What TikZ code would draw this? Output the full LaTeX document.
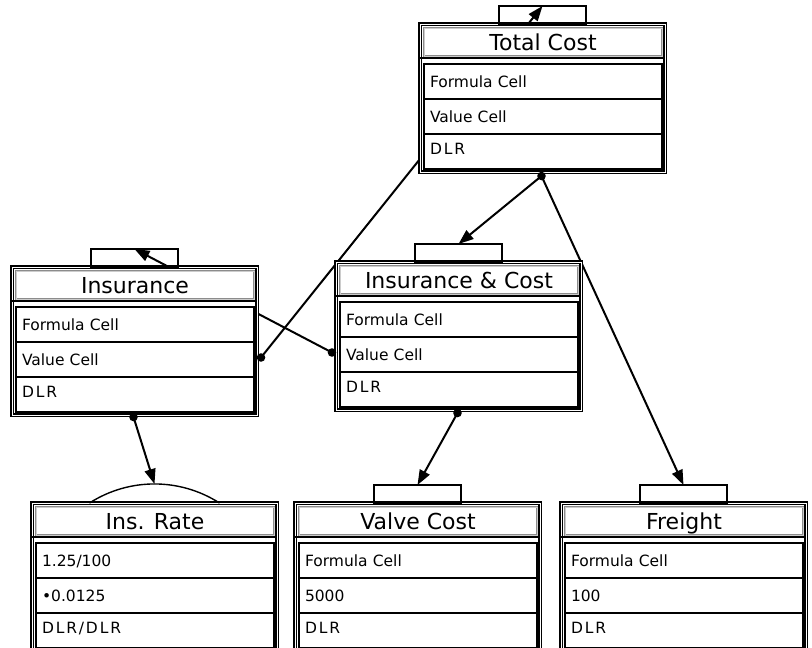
\documentclass[tikz,border=0pt]{standalone}
\usepackage{fontspec}
\setmainfont{DejaVu Sans}
\newfontfamily\dlrfont[LetterSpace=12]{DejaVu Sans}
\usetikzlibrary{arrows.meta,calc,backgrounds}

\tikzset{
  outerbox/.style={draw=black, fill=white, double=white, double distance=1pt,
    line width=1.2pt, minimum width=245pt, minimum height=148pt,
    inner sep=0pt, outer sep=0pt, anchor=north west},
  titlebox/.style={draw=black!45, double=black!20, double distance=0.8pt,
    line width=0.8pt, minimum width=238pt, minimum height=28pt,
    inner sep=0pt, outer sep=0pt, anchor=north west,
    font=\fontsize{22}{22}\selectfont, text height=16pt, text depth=0pt},
  cellbox/.style={draw=black, line width=1.8pt, minimum width=238pt,
    minimum height=35pt, inner xsep=6pt, inner ysep=0pt, outer sep=0pt,
    text width=226pt, align=left, anchor=north west,
    font=\fontsize{15.5}{15.5}\selectfont, text height=11.3pt, text depth=0pt},
  dlrcell/.style={cellbox, font=\fontsize{15.5}{15.5}\dlrfont, text depth=6pt},
  tabbox/.style={draw=black, line width=1.4pt, minimum width=87pt,
    minimum height=18pt, inner sep=0pt, outer sep=0pt, anchor=south},
  tabline/.style={line width=1.4pt},
  wire/.style={line width=2pt, -{Triangle[length=15pt,width=11pt]}},
}

% one spreadsheet cell block: name, left, top, title, three rows
\newcommand\sheet[7]{%
  \node[outerbox] (#1) at (#2,#3) {};
  \node[titlebox] (#1T) at ($(#1.north west)+(4,4)$) {#4};
  \draw[line width=1.4pt] ($(#1.north west)+(0,34)$) -- ($(#1.north east)+(0,34)$);
  \node[cellbox] (#1A) at ($(#1.north west)+(4,40)$) {#5};
  \node[cellbox] (#1B) at (#1A.south west) {#6};
  \node[dlrcell] (#1C) at (#1B.south west) {#7};
}

\begin{document}
\begin{tikzpicture}[x=1pt, y=-1pt]
  \useasboundingbox (0,0) rectangle (812,648);
  \clip (0,0) rectangle (812,648);

  \sheet{tc}{420}{24}{Total Cost}{Formula Cell}{Value Cell}{DLR}
  \sheet{ins}{12}{267}{Insurance}{Formula Cell}{Value Cell}{DLR}
  \sheet{ic}{336}{262}{Insurance \& Cost}{Formula Cell}{Value Cell}{DLR}
  \sheet{ir}{32}{503}{Ins. Rate}{1.25/100}{\textbullet0.0125}{DLR/DLR}
  \sheet{vc}{295}{503}{Valve Cost}{Formula Cell}{5000}{DLR}
  \sheet{fr}{561}{503}{Freight}{Formula Cell}{100}{DLR}

  % input tabs
  \node[tabbox] (tcTab) at (tc.north) {};
  \node[tabbox] (insTab) at (ins.north) {};
  \node[tabbox] (icTab) at (ic.north) {};
  \node[tabbox] (vcTab) at (vc.north) {};
  \node[tabbox] (frTab) at (fr.north) {};
  \draw[tabline] ($(ir.north)+(-65,0)$) .. controls +(39.6,-25.4) and +(-39.6,-25.4) .. ($(ir.north)+(65,0)$);
  \coordinate (irTop) at ($(ir.north)+(0,-19)$);

  % connector origins
  \coordinate (tcOut) at ($(tc.south)+(-1,4)$);
  \coordinate (insOut) at ($(ins.south)+(-1,2)$);
  \coordinate (icOut) at ($(ic.south)+(-1,3)$);
  \coordinate (insVal) at ($(ins.east |- insB.center)+(4,-2)$);
  \coordinate (icVal) at ($(ic.west |- icB.center)+(-4,-2)$);

  \begin{scope}[on background layer]
    \draw[wire] (tcOut) -- (icTab.north);
    \draw[wire] (tcOut) -- (frTab.north);
    \draw[wire] (insOut) -- (irTop);
    \draw[wire] (icOut) -- (vcTab.north);
    \draw[wire] (insVal) -- (tcTab.north);
    \draw[wire] (icVal) -- (insTab.north);
  \end{scope}

  \foreach \p in {tcOut,insOut,icOut,insVal,icVal}
    \fill (\p) circle (4.3);
\end{tikzpicture}
\end{document}
